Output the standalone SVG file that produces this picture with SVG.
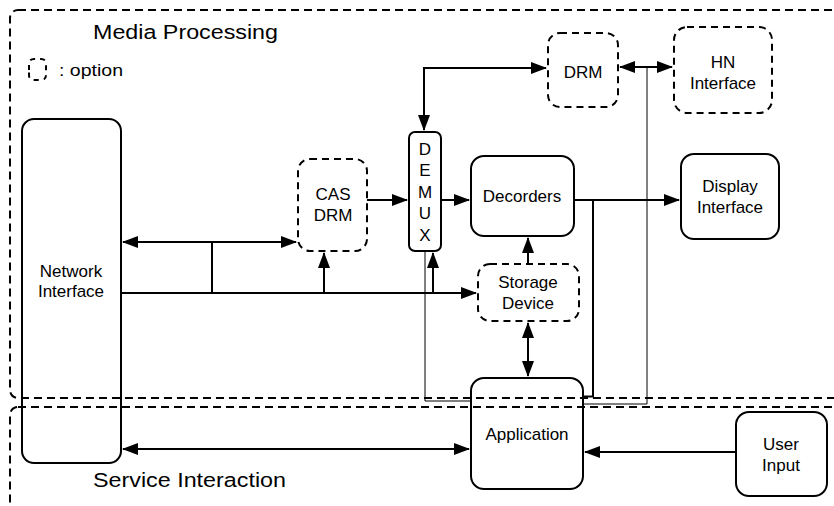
<svg xmlns="http://www.w3.org/2000/svg" width="834" height="506" viewBox="0 0 834 506">
<style>
text{font-family:"Liberation Sans",Arial,sans-serif;fill:#000;text-anchor:middle}
.t{font-size:17px}
.big{font-size:20.5px;text-anchor:start}
.box{fill:#fff;stroke:#000;stroke-width:2}
.opt{fill:#fff;stroke:#000;stroke-width:2;stroke-dasharray:7 5}
.region{fill:none;stroke:#000;stroke-width:2;stroke-dasharray:8 5}
.ln{fill:none;stroke:#000;stroke-width:2}
.thin{fill:none;stroke:#000;stroke-width:1}
</style>
<defs>
<marker id="ah" markerUnits="userSpaceOnUse" markerWidth="16" markerHeight="12" refX="15" refY="6" orient="auto-start-reverse">
<path d="M0,0 L16,6 L0,12 Z" fill="#000"/>
</marker>
</defs>
<g id="regions">
<rect class="region" x="10" y="10" width="850" height="388" rx="8"/>
<rect class="region" x="10" y="407" width="850" height="130" rx="8"/>
<text class="big" x="93" y="39" textLength="185" lengthAdjust="spacingAndGlyphs">Media Processing</text>
<text class="big" x="93" y="487" textLength="193" lengthAdjust="spacingAndGlyphs">Service Interaction</text>
<path d="M29,70 L29,64 Q29,59 34,59 L41,59 Q46,59 46,64 L46,75 Q46,80 41,80 L34,80 Q29,80 29,75 Z" fill="none" stroke="#000" stroke-width="2" stroke-dasharray="5 5"/>
<text x="59" y="76" style="font-size:17px;text-anchor:start" textLength="64" lengthAdjust="spacingAndGlyphs">: option</text>
</g>
<g id="connectors">
<line class="ln" x1="123" y1="242" x2="296" y2="242" marker-start="url(#ah)" marker-end="url(#ah)"/>
<line class="ln" x1="212" y1="242" x2="212" y2="293"/>
<line class="ln" x1="121" y1="293" x2="476" y2="293" marker-end="url(#ah)"/>
<line class="ln" x1="324" y1="293" x2="324" y2="253" marker-end="url(#ah)"/>
<line class="ln" x1="433" y1="293" x2="433" y2="253" marker-end="url(#ah)"/>
<line class="ln" x1="367" y1="200" x2="407" y2="200" marker-end="url(#ah)"/>
<line class="ln" x1="441" y1="200" x2="469" y2="200" marker-end="url(#ah)"/>
<line class="ln" x1="574" y1="200" x2="679" y2="200" marker-end="url(#ah)"/>
<polyline class="ln" points="593,200 593,396.5 583,396.5"/>
<polyline class="ln" points="546,68 424,68 424,130" marker-start="url(#ah)" marker-end="url(#ah)"/>
<line class="ln" x1="620" y1="67" x2="672" y2="67" marker-start="url(#ah)" marker-end="url(#ah)"/>
<polyline class="thin" points="647,67 647,404 583,404"/>
<polyline class="thin" points="425,251 425,401 471,401"/>
<line class="ln" x1="528" y1="264" x2="528" y2="238" marker-end="url(#ah)"/>
<line class="ln" x1="528" y1="323" x2="528" y2="376" marker-start="url(#ah)" marker-end="url(#ah)"/>
<line class="ln" x1="123" y1="449" x2="469" y2="449" marker-start="url(#ah)" marker-end="url(#ah)"/>
<line class="ln" x1="736" y1="452" x2="585" y2="452" marker-end="url(#ah)"/>
</g>
<g id="network-interface">
<rect class="box" x="22" y="119" width="99" height="344" rx="12" style="fill:none"/>
<text class="t" x="71" y="277">Network</text>
<text class="t" x="71" y="297">Interface</text>
</g>
<g id="cas-drm">
<rect class="opt" x="298" y="159" width="69" height="92" rx="12"/>
<text class="t" x="333" y="200">CAS</text>
<text class="t" x="333" y="221">DRM</text>
</g>
<g id="demux">
<rect class="box" x="409" y="132" width="32" height="119" rx="6"/>
<text class="t" x="425" y="155">D</text>
<text class="t" x="425" y="176">E</text>
<text class="t" x="425" y="198">M</text>
<text class="t" x="425" y="219">U</text>
<text class="t" x="425" y="241">X</text>
</g>
<g id="decorders">
<rect class="box" x="471" y="156" width="103" height="80" rx="13"/>
<text class="t" x="522" y="202">Decorders</text>
</g>
<g id="display-interface">
<rect class="box" x="681" y="154" width="98" height="85" rx="13"/>
<text class="t" x="730" y="192">Display</text>
<text class="t" x="730" y="213">Interface</text>
</g>
<g id="drm">
<rect class="opt" x="548" y="33" width="70" height="74" rx="12"/>
<text class="t" x="583" y="78">DRM</text>
</g>
<g id="hn-interface">
<rect class="opt" x="674" y="27" width="98" height="86" rx="13"/>
<text class="t" x="723" y="68">HN</text>
<text class="t" x="723" y="89">Interface</text>
</g>
<g id="storage-device">
<rect class="opt" x="478" y="264" width="101" height="57" rx="12"/>
<text class="t" x="528" y="288">Storage</text>
<text class="t" x="528" y="309">Device</text>
</g>
<g id="application">
<rect class="box" x="471" y="378" width="112" height="111" rx="13" style="fill:none"/>
<text class="t" x="527" y="440">Application</text>
</g>
<g id="user-input">
<rect class="box" x="736" y="412" width="91" height="84" rx="13"/>
<text class="t" x="781" y="450">User</text>
<text class="t" x="781" y="471">Input</text>
</g>
</svg>
